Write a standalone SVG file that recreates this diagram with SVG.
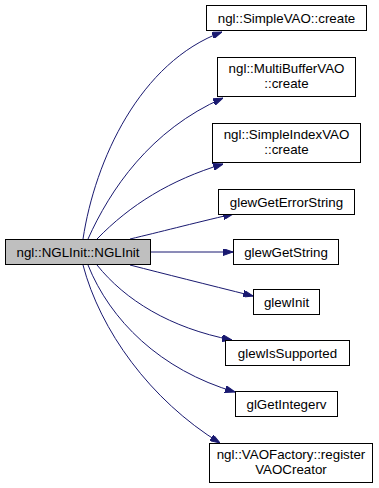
<svg xmlns="http://www.w3.org/2000/svg" width="379" height="488" viewBox="0 0 379 488">
  <style>
    .node rect { fill: #ffffff; stroke: #000000; stroke-width: 1; }
    .node.root rect { fill: #bfbfbf; }
    .node text { font-family: "Liberation Sans", Arial, sans-serif; font-size: 13.33px; fill: #000000; text-anchor: middle; }
    .edge { fill: none; stroke: #191970; stroke-width: 1; }
  </style>
  <defs>
    <marker id="arrow" viewBox="0 0 10 7" refX="10" refY="3.5" markerWidth="10" markerHeight="7" markerUnits="userSpaceOnUse" orient="auto">
      <polygon points="0,0 10,3.5 0,7" fill="#191970" stroke="#191970"/>
    </marker>
  </defs>
  <rect width="379" height="488" fill="#ffffff"/>

  <!-- call edges -->
  <g id="edges">
    <path class="edge" marker-end="url(#arrow)" d="M83,239 C95,160 140,62 222,32"/>
    <path class="edge" marker-end="url(#arrow)" d="M88,239 C110,190 150,130 223,98"/>
    <path class="edge" marker-end="url(#arrow)" d="M97,239 C130,205 170,180 223,164"/>
    <path class="edge" marker-end="url(#arrow)" d="M130,239 C160,232 190,224 233,214"/>
    <path class="edge" marker-end="url(#arrow)" d="M151,252 L233,252"/>
    <path class="edge" marker-end="url(#arrow)" d="M130,265 C165,274 205,284 253,296"/>
    <path class="edge" marker-end="url(#arrow)" d="M97,265 C125,300 170,328 232,340"/>
    <path class="edge" marker-end="url(#arrow)" d="M88,265 C110,320 160,370 235,392"/>
    <path class="edge" marker-end="url(#arrow)" d="M83,265 C100,330 150,400 220,443"/>
  </g>

  <g id="node-NGLInit" class="node root">
    <rect x="5.5" y="239.5" width="145" height="25"/>
    <text x="78" y="257">ngl::NGLInit::NGLInit</text>
  </g>
  <g id="node-SimpleVAO-create" class="node">
    <rect x="206.5" y="5.5" width="160" height="25"/>
    <text x="286.5" y="23">ngl::SimpleVAO::create</text>
  </g>
  <g id="node-MultiBufferVAO-create" class="node">
    <rect x="217.5" y="57.5" width="138" height="39"/>
    <text x="286.5" y="73">ngl::MultiBufferVAO</text>
    <text x="286.5" y="88">::create</text>
  </g>
  <g id="node-SimpleIndexVAO-create" class="node">
    <rect x="212.5" y="123.5" width="148" height="39"/>
    <text x="286.5" y="139">ngl::SimpleIndexVAO</text>
    <text x="286.5" y="154">::create</text>
  </g>
  <g id="node-glewGetErrorString" class="node">
    <rect x="218.5" y="189.5" width="136" height="25"/>
    <text x="286.5" y="207">glewGetErrorString</text>
  </g>
  <g id="node-glewGetString" class="node">
    <rect x="233.5" y="239.5" width="105" height="25"/>
    <text x="286" y="257">glewGetString</text>
  </g>
  <g id="node-glewInit" class="node">
    <rect x="253.5" y="289.5" width="66" height="25"/>
    <text x="286.5" y="307">glewInit</text>
  </g>
  <g id="node-glewIsSupported" class="node">
    <rect x="225.5" y="340.5" width="124" height="25"/>
    <text x="287.5" y="358">glewIsSupported</text>
  </g>
  <g id="node-glGetIntegerv" class="node">
    <rect x="235.5" y="391.5" width="102" height="25"/>
    <text x="286.5" y="409">glGetIntegerv</text>
  </g>
  <g id="node-VAOFactory-registerVAOCreator" class="node">
    <rect x="209.5" y="443.5" width="163" height="39"/>
    <text x="291" y="459">ngl::VAOFactory::register</text>
    <text x="291" y="474">VAOCreator</text>
  </g>
</svg>
